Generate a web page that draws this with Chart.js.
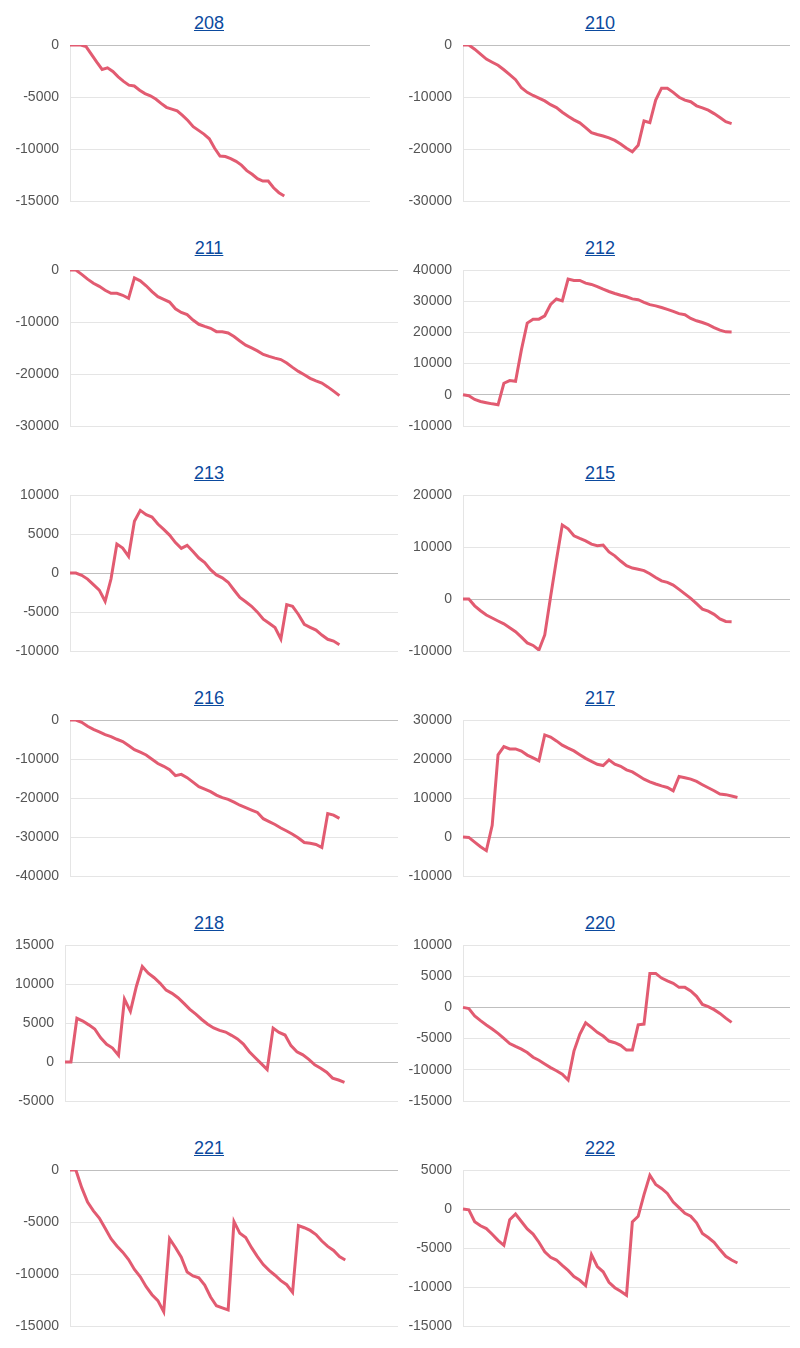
<!DOCTYPE html>
<html>
<head>
<meta charset="utf-8">
<script src="https://cdn.jsdelivr.net/npm/chart.js@4.4.1/dist/chart.umd.min.js"></script>
<style>
  html, body { margin: 0; padding: 0; background: #fff; }
  body { width: 800px; height: 1348px; position: relative; overflow: hidden; font-family: "Liberation Sans", Arial, Helvetica, sans-serif; }
  .cell { position: absolute; width: 400px; height: 225px; }
  .cell a { position: absolute; top: 13px; font-size: 18px; text-align: center; color: #0b4a9e; text-decoration: underline; }
  .cell canvas { position: absolute; top: 35px; }
</style>
</head>
<body>
<div id="grid"></div>
<script>
// x categories are blank, the series stop before the end of the axis
const xLabels = Array(57).fill('');

const chartIds = ['208', '210', '211', '212', '213', '215', '216', '217', '218', '220', '221', '222'];

const s208 = [0, 0, 0, -150, -900, -1650, -2350, -2200, -2550, -3070, -3500, -3860, -3940, -4350, -4670, -4880, -5200, -5610, -5990, -6170, -6340, -6770, -7260, -7850, -8210, -8570, -9020, -9930, -10680, -10730, -10920, -11190, -11550, -12080, -12430, -12860, -13080, -13080, -13730, -14200, -14520];
const s210 = [0, 0, -800, -1750, -2700, -3310, -3890, -4760, -5680, -6670, -8230, -9100, -9710, -10200, -10750, -11480, -12030, -12930, -13710, -14390, -14970, -15880, -16850, -17220, -17500, -17860, -18340, -19050, -19860, -20550, -19300, -14610, -14930, -10600, -8300, -8300, -9100, -10050, -10600, -10900, -11700, -12080, -12520, -13190, -13950, -14760, -15120];
const s211 = [0, 0, -850, -1760, -2540, -3140, -3890, -4490, -4490, -4860, -5450, -1500, -2080, -3040, -4160, -5130, -5640, -6170, -7470, -8170, -8590, -9620, -10440, -10840, -11210, -11860, -11860, -12120, -12800, -13660, -14460, -14990, -15550, -16240, -16620, -16950, -17220, -17890, -18730, -19500, -20150, -20840, -21310, -21740, -22480, -23300, -24170];
const s212 = [0, -320, -1500, -2140, -2530, -2900, -3200, 3700, 4540, 4320, 14400, 23000, 24250, 24250, 25320, 28950, 30700, 30100, 37070, 36650, 36650, 35790, 35370, 34690, 33840, 33120, 32480, 31890, 31410, 30750, 30480, 29650, 28890, 28500, 27970, 27370, 26730, 26020, 25660, 24460, 23720, 23180, 22460, 21520, 20720, 20170, 20090];
const s213 = [0, 0, -300, -780, -1500, -2200, -3630, -770, 3720, 3200, 2140, 6620, 8030, 7480, 7180, 6280, 5600, 4860, 3900, 3150, 3550, 2760, 1920, 1350, 430, -250, -620, -1180, -2180, -3140, -3690, -4270, -5020, -5930, -6450, -7000, -8460, -4060, -4280, -5320, -6580, -6960, -7320, -7960, -8500, -8730, -9190];
const s215 = [0, 0, -1310, -2260, -3080, -3660, -4230, -4780, -5530, -6290, -7330, -8440, -8930, -9810, -6920, 450, 7500, 14230, 13500, 12150, 11650, 11180, 10560, 10260, 10380, 9040, 8300, 7300, 6400, 5950, 5730, 5450, 4850, 4140, 3490, 3190, 2690, 1850, 980, 110, -910, -1940, -2340, -2950, -3830, -4320, -4360];
const s216 = [0, 0, -600, -1620, -2410, -3020, -3740, -4250, -4940, -5520, -6550, -7610, -8250, -8970, -10050, -11170, -11880, -12770, -14270, -13930, -14790, -15940, -17090, -17710, -18360, -19270, -19900, -20350, -21080, -21850, -22460, -23080, -23700, -25300, -26040, -26800, -27690, -28460, -29280, -30250, -31420, -31620, -31900, -32700, -24000, -24400, -25210];
const s217 = [0, -100, -1300, -2500, -3500, 3000, 21060, 23190, 22590, 22590, 22020, 21000, 20300, 19520, 26170, 25630, 24640, 23550, 22780, 22080, 21100, 20160, 19380, 18650, 18330, 19780, 18670, 18140, 17220, 16690, 15770, 14830, 14150, 13600, 13100, 12700, 11850, 15520, 15190, 14830, 14240, 13410, 12620, 11860, 11000, 10860, 10510, 10140];
const s218 = [0, 0, 5600, 5250, 4760, 4230, 3100, 2260, 1790, 850, 8060, 6500, 9680, 12240, 11390, 10800, 10090, 9210, 8800, 8240, 7510, 6740, 6130, 5450, 4850, 4370, 4060, 3840, 3420, 2960, 2300, 1320, 550, -200, -980, 4350, 3800, 3460, 2100, 1320, 920, 340, -370, -790, -1310, -2060, -2310, -2600];
const s220 = [0, -180, -1360, -2130, -2830, -3470, -4170, -4950, -5790, -6260, -6700, -7230, -7990, -8470, -9070, -9650, -10150, -10710, -11640, -7000, -4300, -2460, -3210, -3990, -4590, -5390, -5660, -6090, -6840, -6840, -2800, -2670, 5450, 5450, 4700, 4250, 3850, 3210, 3210, 2650, 1780, 470, 110, -360, -960, -1720, -2400];
const s221 = [0, 0, -1700, -3090, -3930, -4620, -5610, -6600, -7300, -7900, -8610, -9560, -10270, -11220, -11990, -12560, -13620, -6600, -7450, -8380, -9810, -10190, -10360, -11060, -12210, -13050, -13260, -13460, -4970, -6090, -6500, -7470, -8330, -9090, -9650, -10120, -10640, -11030, -11760, -5340, -5550, -5810, -6210, -6830, -7350, -7740, -8330, -8650];
const s222 = [0, -100, -1620, -2150, -2510, -3240, -4020, -4660, -1370, -640, -1600, -2560, -3220, -4260, -5500, -6200, -6540, -7230, -7870, -8650, -9140, -9830, -5850, -7370, -8050, -9400, -10090, -10540, -11070, -1670, -940, 1840, 4320, 3150, 2640, 1990, 900, 170, -560, -920, -1770, -3130, -3660, -4260, -5200, -6070, -6540, -6920];

const seriesList = [s208, s210, s211, s212, s213, s215, s216, s217, s218, s220, s221, s222];

// y axis tick range for each chart
const yMins  = [-15000, -30000, -30000, -10000, -10000, -10000, -40000, -10000, -5000, -15000, -15000, -15000];
const yMaxs  = [0, 0, 0, 40000, 10000, 20000, 0, 30000, 15000, 10000, 0, 5000];
const ySteps = [5000, 10000, 10000, 10000, 5000, 10000, 10000, 10000, 5000, 5000, 5000, 5000];

// canvas width and y axis width (px), left column / right column
const canvasWidths = { '208': 370 };
const axisWidths = { '218': 65 };

const grid = document.getElementById('grid');

chartIds.forEach((id, i) => {
    const col = i % 2;
    const row = Math.floor(i / 2);

    const cell = document.createElement('div');
    cell.className = 'cell';
    cell.style.left = (col * 400) + 'px';
    cell.style.top = (row * 225) + 'px';

    const link = document.createElement('a');
    link.href = '#' + id;
    link.textContent = id;
    link.style.left = '0px';
    link.style.width = (col === 0 ? 418 : 400) + 'px';
    cell.appendChild(link);

    const canvas = document.createElement('canvas');
    const w = canvasWidths[id] || (col === 0 ? 398 : 390);
    canvas.width = w;
    canvas.height = 176;
    canvas.style.width = w + 'px';
    canvas.style.height = '176px';
    canvas.style.left = '0px';
    cell.appendChild(canvas);
    grid.appendChild(cell);

    const axisW = axisWidths[id] || (col === 0 ? 70 : 63);

    new Chart(canvas.getContext('2d'), {
        type: 'line',
        data: {
            labels: xLabels,
            datasets: [{
                data: seriesList[i],
                borderColor: 'rgb(226, 91, 113)',
                backgroundColor: 'rgb(226, 91, 113)',
                borderWidth: 3,
                pointRadius: 0,
                tension: 0,
                fill: false
            }]
        },
        options: {
            responsive: false,
            animation: false,
            devicePixelRatio: 1,
            layout: { padding: { top: 10, bottom: 10, left: 0, right: 0 } },
            plugins: {
                legend: { display: false },
                tooltip: { enabled: false }
            },
            scales: {
                x: { display: false },
                y: {
                    min: yMins[i],
                    max: yMaxs[i],
                    afterFit: (scale) => {
                        scale.width = axisW;
                        scale.paddingTop = 0;
                        scale.paddingBottom = 0;
                    },
                    ticks: {
                        stepSize: ySteps[i],
                        padding: 11,
                        color: '#555',
                        font: { family: "'Liberation Sans', Arial, sans-serif", size: 14 },
                        callback: (value) => String(value)
                    },
                    grid: {
                        drawTicks: false,
                        color: (ctx) => (ctx.tick && ctx.tick.value === 0) ? 'rgba(0,0,0,0.25)' : 'rgba(0,0,0,0.1)'
                    },
                    border: { display: true, color: 'rgba(0,0,0,0.1)' }
                }
            }
        }
    });
});
</script>
</body>
</html>
